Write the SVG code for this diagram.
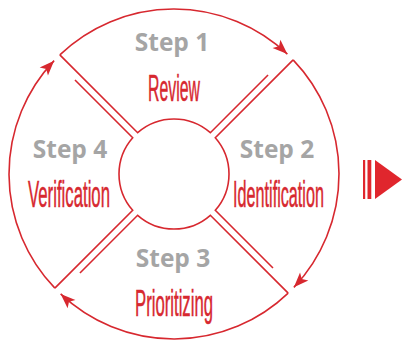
<svg xmlns="http://www.w3.org/2000/svg" width="402" height="340" viewBox="0 0 402 340">
  <style>
    .edge { fill: none; stroke: #d7282f; stroke-width: 1.6; stroke-linejoin: miter; }
    .arc { fill: none; stroke: #d7282f; stroke-width: 1.6; marker-end: url(#arrow); }
    .step { font-family: "Open Sans", "Noto Sans", "DejaVu Sans", sans-serif; font-weight: bold; font-size: 24.5px; fill: #a5a5a5; text-anchor: middle; }
    .name { font-family: "Liberation Sans", Arial, sans-serif; font-size: 36.5px; fill: #d7282f; stroke: #d7282f; stroke-width: 0.5; text-anchor: middle; }
  </style>
  <defs>
    <marker id="arrow" markerUnits="userSpaceOnUse" markerWidth="17" markerHeight="13" refX="15" refY="6.5" orient="auto" overflow="visible">
      <path d="M0,0.8 L15,6.5 L0,12.2 L3.5,6.5 Z" fill="#d7282f"/>
    </marker>
  </defs>

  <g id="step1">
    <path class="edge" d="M268.045,75.005 L210.338,132.712 A55,55 0 0 0 137.662,132.712 L59.828,54.878"/>
    <text class="step" x="172" y="51">Step 1</text>
    <text class="name" x="174" y="101" textLength="52" lengthAdjust="spacingAndGlyphs">Review</text>
  </g>
  <g id="step2">
    <path class="edge" d="M272.995,268.045 L215.288,210.338 A55,55 0 0 0 215.288,137.662 L293.122,59.828"/>
    <text class="step" x="277" y="158">Step 2</text>
    <text class="name" x="278.5" y="207" textLength="91" lengthAdjust="spacingAndGlyphs">Identification</text>
  </g>
  <g id="step3">
    <path class="edge" d="M79.955,272.995 L137.662,215.288 A55,55 0 0 0 210.338,215.288 L288.172,293.122"/>
    <text class="step" x="173" y="267">Step 3</text>
    <text class="name" x="174" y="316" textLength="78" lengthAdjust="spacingAndGlyphs">Prioritizing</text>
  </g>
  <g id="step4">
    <path class="edge" d="M74.995,79.955 L132.712,137.662 A55,55 0 0 0 132.712,210.338 L54.878,288.172"/>
    <text class="step" x="70" y="158">Step 4</text>
    <text class="name" x="69" y="207" textLength="82" lengthAdjust="spacingAndGlyphs">Verification</text>
  </g>

  <g id="connectors">
    <path class="arc" d="M59.828,54.878 A165,165 0 0 1 287.37,54.12"/>
    <path class="arc" d="M293.122,59.828 A165,165 0 0 1 293.88,287.37"/>
    <path class="arc" d="M288.172,293.122 A165,165 0 0 1 60.63,293.88"/>
    <path class="arc" d="M54.878,288.172 A165,165 0 0 1 54.12,60.63"/>
  </g>

  <g id="next-marker" fill="#e0262d">
    <rect x="363" y="160" width="2.2" height="39"/>
    <rect x="367.5" y="160" width="3.8" height="39"/>
    <polygon points="375,160 402,179.5 375,199"/>
  </g>
</svg>
